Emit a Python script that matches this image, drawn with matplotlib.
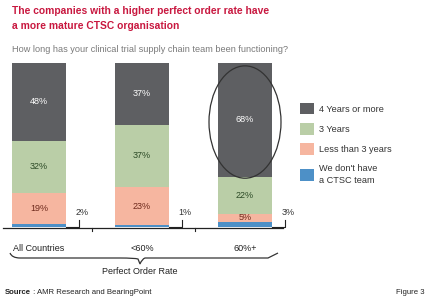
import numpy as np
import matplotlib.pyplot as plt
from matplotlib.patches import Ellipse
from matplotlib.path import Path
from matplotlib.patches import PathPatch

plt.rcParams['font.family'] = ['Liberation Sans', 'DejaVu Sans']

groups = ['All Countries', '<60%', '60%+']
series = ['4 Years or more', '3 Years', 'Less than 3 years', "We don't have\na CTSC team"]
four_plus = [48, 37, 68]
three = [32, 37, 22]
less_three = [19, 23, 5]
no_team = [2, 1, 3]

colors = ['#5e5f62', '#bacea7', '#f6b6a0', '#4d90c7']
txt_colors = ['white', '#2c4a26', '#6e2a1c']

W, H = 430, 303
fig = plt.figure(figsize=(W / 100, H / 100), dpi=100)

# overlay in pixel coords for the decorations
ov = fig.add_axes([0, 0, 1, 1])
ov.set_xlim(0, W)
ov.set_ylim(H, 0)
ov.axis('off')

ax = fig.add_axes([0, (H - 227) / H, 290 / W, (227 - 63) / H])
ax.set_xlim(-39 / 103, (290 - 39) / 103)
ax.set_ylim(0, 100)
ax.axis('off')

data = np.array([no_team, less_three, three, four_plus], dtype=float)
tot = data.sum(axis=0)
pct = data / tot * 100
x = np.arange(len(groups))
bw = 54 / 103

bottom = np.zeros(len(groups))
bars = []
for i in range(4):
    b = ax.bar(x, pct[i], bw, bottom=bottom, color=colors[3 - i], linewidth=0)
    bars.append(b)
    if i > 0:
        for j in range(len(groups)):
            ax.text(x[j], bottom[j] + pct[i][j] / 2, f'{int(data[i][j])}%',
                    ha='center', va='center', fontsize=6.5,
                    color=txt_colors[3 - i])
    bottom += pct[i]

# small labels for the "no team" share
for j in range(len(groups)):
    xe = x[j] + bw / 2
    ax.plot([xe, x[j] + 0.385, x[j] + 0.385], [0, 0, 4.5], color='#222222',
            lw=0.8, clip_on=False)
    ax.text(x[j] + 0.42, 9, f'{no_team[j]}%', ha='center', va='center',
            fontsize=6.5, color='#333333')

# baseline + ticks
ax.plot([-0.35, 2.37], [-0.6, -0.6], color='#222222', lw=0.9, clip_on=False)
for t in [0.515, 1.515]:
    ax.plot([t, t], [-0.6, -2.5], color='#222222', lw=0.8, clip_on=False)

ax.add_patch(Ellipse((x[2], 64), 72 / 103, 68.5, fill=False, ec='#333333',
                     lw=0.9, clip_on=False))

for j, g in enumerate(groups):
    ax.text(x[j], -13, g, ha='center', va='center', fontsize=6.5,
            color='#222222')

# brace
verts = [(10, 253), (12, 258), (20, 258), (120, 258), (135, 258), (138, 259),
         (140, 264), (142, 259), (145, 258), (160, 258), (260, 258), (268, 258),
         (278, 253)]
codes = [Path.MOVETO, Path.CURVE3, Path.CURVE3, Path.LINETO, Path.CURVE3,
         Path.CURVE3, Path.LINETO, Path.CURVE3, Path.CURVE3, Path.LINETO,
         Path.CURVE3, Path.CURVE3, Path.LINETO]
ov.add_patch(PathPatch(Path(verts, codes), fill=False, ec='#333333', lw=0.9))
ov.text(140, 272, 'Perfect Order Rate', ha='center', va='center', fontsize=6.5,
        color='#222222')

# legend
handles = [bars[3], bars[2], bars[1], bars[0]]
leg = fig.legend(handles, series, loc='upper left', bbox_to_anchor=(296 / W, 1 - 99 / H),
                 frameon=False, handlelength=1.6, handleheight=1.6,
                 labelspacing=0.93, handletextpad=0.5, borderaxespad=0,
                 labelcolor='#333333', prop={'size': 6.6})
for t in leg.get_texts():
    t.set_linespacing(1.45)

# titles
ov.text(12, 6, 'The companies with a higher perfect order rate have\na more mature CTSC organisation',
        ha='left', va='top', fontsize=7.4, fontweight='bold', color='#c8173f',
        linespacing=1.65)
ov.text(12, 49, 'How long has your clinical trial supply chain team been functioning?',
        ha='left', va='center', fontsize=6.6, color='#7a7a7a')

src = ov.text(5, 292, 'Source', ha='left', va='center', fontsize=5.6,
              fontweight='bold', color='#222222')
ov.annotate(' : AMR Research and BearingPoint', xy=(1, 0.5), xycoords=src,
            ha='left', va='center', fontsize=5.6, color='#222222')
ov.text(424, 292, 'Figure 3', ha='right', va='center', fontsize=5.6, color='#222222')

fig.savefig('out.png', dpi=100)
